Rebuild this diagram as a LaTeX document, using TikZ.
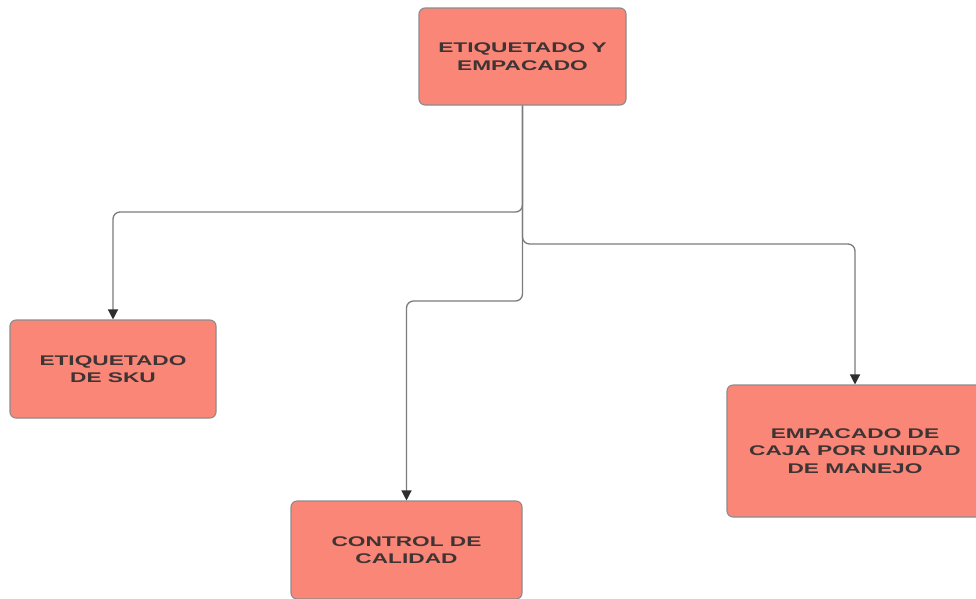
\documentclass[tikz,border=0pt]{standalone}
\usepackage{fontspec}
\setmainfont{Liberation Sans}[FakeStretch=1.62]
\usetikzlibrary{arrows.meta}
\definecolor{boxfill}{HTML}{F98677}
\definecolor{boxedge}{HTML}{8C8C8C}
\definecolor{boxtext}{HTML}{3E3434}
\definecolor{wire}{HTML}{7C7C7C}
\definecolor{tip}{HTML}{2E2E2E}
\tikzset{
  stage/.style={draw=boxedge, line width=1.1pt, fill=boxfill, rounded corners=6pt,
    text=boxtext, font=\fontsize{14}{17.5}\selectfont\bfseries, align=center,
    inner sep=0pt},
  conn/.style={draw=wire, line width=1.3pt, rounded corners=7pt,
    -{Triangle[length=10pt,width=10pt,color=tip]}},
}
\begin{document}
\begin{tikzpicture}[x=1pt,y=-1pt]
  \clip (0,0) rectangle (976,598);
  \useasboundingbox (0,0) rectangle (976,598);
  \fill[white] (0,0) rectangle (976,598);

  % process stages
  \node[stage, minimum width=207pt, minimum height=97pt] (top) at (522.5,56.5)
    {ETIQUETADO Y\\EMPACADO};
  \node[stage, minimum width=206pt, minimum height=98pt] (sku) at (113,369)
    {ETIQUETADO\\DE SKU};
  \node[stage, minimum width=231pt, minimum height=98pt] (qc) at (406.5,550)
    {CONTROL DE\\CALIDAD};
  \node[stage, minimum width=256pt, minimum height=132pt] (box) at (855,451)
    {EMPACADO DE\\CAJA POR UNIDAD\\DE MANEJO};

  % branch points on the trunk below the top stage
  \coordinate (jsku) at (522.5,212);
  \coordinate (jbox) at (522.5,244);
  \coordinate (jqc)  at (522.5,301);

  % connectors
  \draw[conn] (top.south) -- (jsku) -| (sku.north);
  \draw[conn] (top.south) -- (jbox) -| (box.north);
  \draw[conn] (top.south) -- (jqc) -| (qc.north);
\end{tikzpicture}
\end{document}
